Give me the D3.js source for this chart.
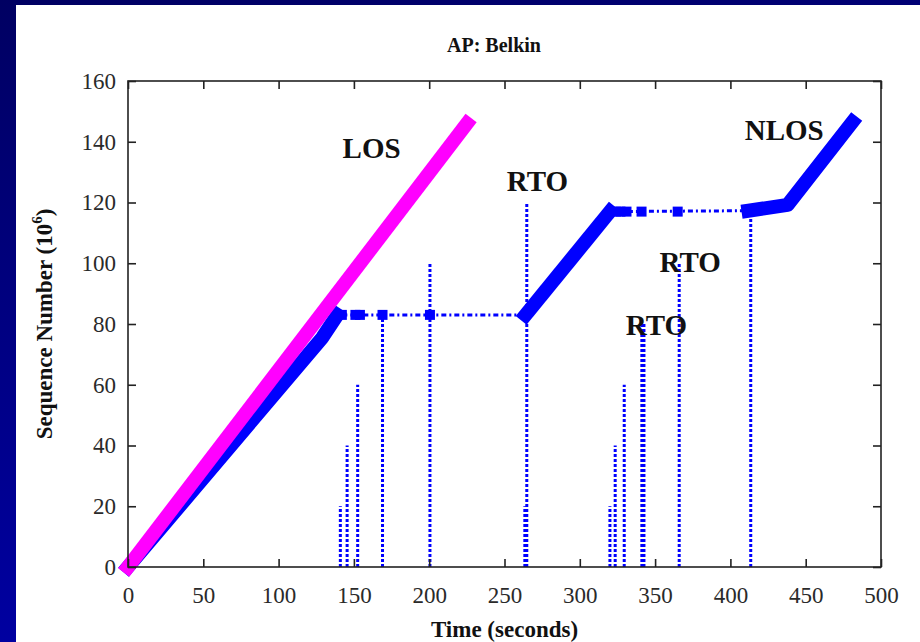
<!DOCTYPE html>
<html>
<head>
<meta charset="utf-8">
<title>AP: Belkin</title>
<script src="https://cdn.jsdelivr.net/npm/d3@7"></script>
<style>
  html, body { margin: 0; padding: 0; }
  body { width: 920px; height: 642px; overflow: hidden; }
  text { font-family: "Liberation Serif", "DejaVu Serif", serif; }
</style>
</head>
<body>
<div id="chart"></div>
<script>
// tick labels
const xTicks = [0, 50, 100, 150, 200, 250, 300, 350, 400, 450, 500];
const yTicks = [0, 20, 40, 60, 80, 100, 120, 140, 160];

// LOS trace (time s, seq 10^6)
const losPoints = [[0, 0], [225, 146]];

// NLOS trace: ramps where data flows, flat parts while waiting on RTO
const nlosRamps = [
  [[0, 0], [129, 75.5], [139, 83]],
  [[264, 83], [320, 117]],
  [[412, 117.3], [438, 119.2], [481, 146.5]]
];
const nlosFlat = [
  [[139, 83], [264, 83]],
  [[320, 117], [412, 117.3]]
];
const nlosMarks = [
  [142, 83], [151, 83], [154, 83], [169, 83], [200.5, 83],
  [324, 117], [327, 117], [331, 117], [341, 117], [365, 117]
];

// retransmission spikes: [time, top]
const rtoLines = [
  [141, 20], [145.5, 40], [152.5, 60], [169, 83], [200.5, 100],
  [263.5, 20], [264.8, 120],
  [320, 20], [323.5, 40], [329.5, 60], [341.2, 80], [342.6, 80], [366, 100], [413.5, 117]
];

// text labels: [text, time, seq]
const labels = [
  ["LOS", 142.5, 134.6],
  ["RTO", 251.5, 123.8],
  ["NLOS", 409.5, 140.6],
  ["RTO", 353, 97.1],
  ["RTO", 330.5, 76.4]
];

const W = 920, H = 642;
const svg = d3.select("#chart").append("svg")
  .attr("width", W).attr("height", H);

// slide background
const grad = svg.append("defs").append("linearGradient")
  .attr("id", "bg").attr("x1", 0).attr("y1", 0).attr("x2", 0.3).attr("y2", 1);
grad.append("stop").attr("offset", "0%").attr("stop-color", "#000062");
grad.append("stop").attr("offset", "100%").attr("stop-color", "#0000a6");
svg.append("rect").attr("width", W).attr("height", H).attr("fill", "url(#bg)");
svg.append("rect").attr("x", 16).attr("y", 5).attr("width", W - 16).attr("height", H - 5)
  .attr("fill", "#fff");

const m = {left: 128, right: 881, top: 81, bottom: 567};
const x = d3.scaleLinear().domain([0, 500]).range([m.left, m.right]);
const y = d3.scaleLinear().domain([0, 160]).range([m.bottom, m.top]);

const line = d3.line().x(d => x(d[0])).y(d => y(d[1]));

const plot = svg.append("g");

// spikes
plot.selectAll(".rto").data(rtoLines).enter().append("line")
  .attr("x1", d => x(d[0])).attr("x2", d => x(d[0]))
  .attr("y1", y(0)).attr("y2", d => y(d[1]))
  .attr("stroke", "#0000ff").attr("stroke-width", 3)
  .attr("stroke-dasharray", "3,2");

// flat waiting parts
plot.selectAll(".flat").data(nlosFlat).enter().append("path")
  .attr("d", line).attr("fill", "none")
  .attr("stroke", "#0000ff").attr("stroke-width", 3)
  .attr("stroke-dasharray", "5,3,2,3");

plot.selectAll(".mark").data(nlosMarks).enter().append("rect")
  .attr("x", d => x(d[0]) - 5).attr("y", d => y(d[1]) - 5)
  .attr("width", 10).attr("height", 10).attr("fill", "#0000ff");

// NLOS ramps
plot.selectAll(".ramp").data(nlosRamps).enter().append("path")
  .attr("d", line).attr("fill", "none")
  .attr("stroke", "#0000ff").attr("stroke-width", 14)
  .attr("stroke-linecap", "square").attr("stroke-linejoin", "round");

// LOS on top
plot.append("path").datum(losPoints)
  .attr("d", line).attr("fill", "none")
  .attr("stroke", "#ff00ff").attr("stroke-width", 14)
  .attr("stroke-linecap", "square");

// frame + inward ticks on four sides
const frame = svg.append("g").attr("stroke", "#222").attr("stroke-width", 1.6);
frame.append("rect").attr("x", m.left).attr("y", m.top)
  .attr("width", m.right - m.left).attr("height", m.bottom - m.top).attr("fill", "none");

const xAxisB = d3.axisBottom(x).tickValues(xTicks).tickSizeInner(-8).tickSizeOuter(0).tickPadding(20);
const xAxisT = d3.axisTop(x).tickValues(xTicks).tickSizeInner(-8).tickSizeOuter(0).tickFormat("");
const yAxisL = d3.axisLeft(y).tickValues(yTicks).tickSizeInner(-8).tickSizeOuter(0).tickPadding(12);
const yAxisR = d3.axisRight(y).tickValues(yTicks).tickSizeInner(-8).tickSizeOuter(0).tickFormat("");

function style(g) {
  g.select(".domain").remove();
  g.selectAll(".tick line").attr("stroke", "#222").attr("stroke-width", 1.6);
  g.selectAll(".tick text").attr("fill", "#2a2a2a").attr("font-size", 23)
    .attr("font-family", "'Liberation Serif', serif");
}
svg.append("g").attr("transform", `translate(0,${m.bottom})`).call(xAxisB).call(style);
svg.append("g").attr("transform", `translate(0,${m.top})`).call(xAxisT).call(style);
svg.append("g").attr("transform", `translate(${m.left},0)`).call(yAxisL).call(style);
svg.append("g").attr("transform", `translate(${m.right},0)`).call(yAxisR).call(style);

// annotations
svg.selectAll(".lab").data(labels).enter().append("text")
  .attr("x", d => x(d[1])).attr("y", d => y(d[2]))
  .attr("font-size", 29).attr("font-weight", "bold").attr("fill", "#111")
  .text(d => d[0]);

// title and axis titles
svg.append("text").attr("x", 494).attr("y", 52).attr("text-anchor", "middle")
  .attr("font-size", 20).attr("font-weight", "bold").attr("fill", "#111")
  .text("AP: Belkin");

svg.append("text").attr("x", (m.left + m.right) / 2).attr("y", 637).attr("text-anchor", "middle")
  .attr("font-size", 23).attr("font-weight", "bold").attr("fill", "#111")
  .text("Time (seconds)");

const yl = svg.append("text")
  .attr("transform", `translate(52,${(m.top + m.bottom) / 2}) rotate(-90)`)
  .attr("text-anchor", "middle")
  .attr("font-size", 23).attr("font-weight", "bold").attr("fill", "#111");
yl.append("tspan").text("Sequence Number (10");
yl.append("tspan").attr("dy", -10).attr("font-size", 15).text("6");
yl.append("tspan").attr("dy", 10).text(")");
</script>
</body>
</html>
